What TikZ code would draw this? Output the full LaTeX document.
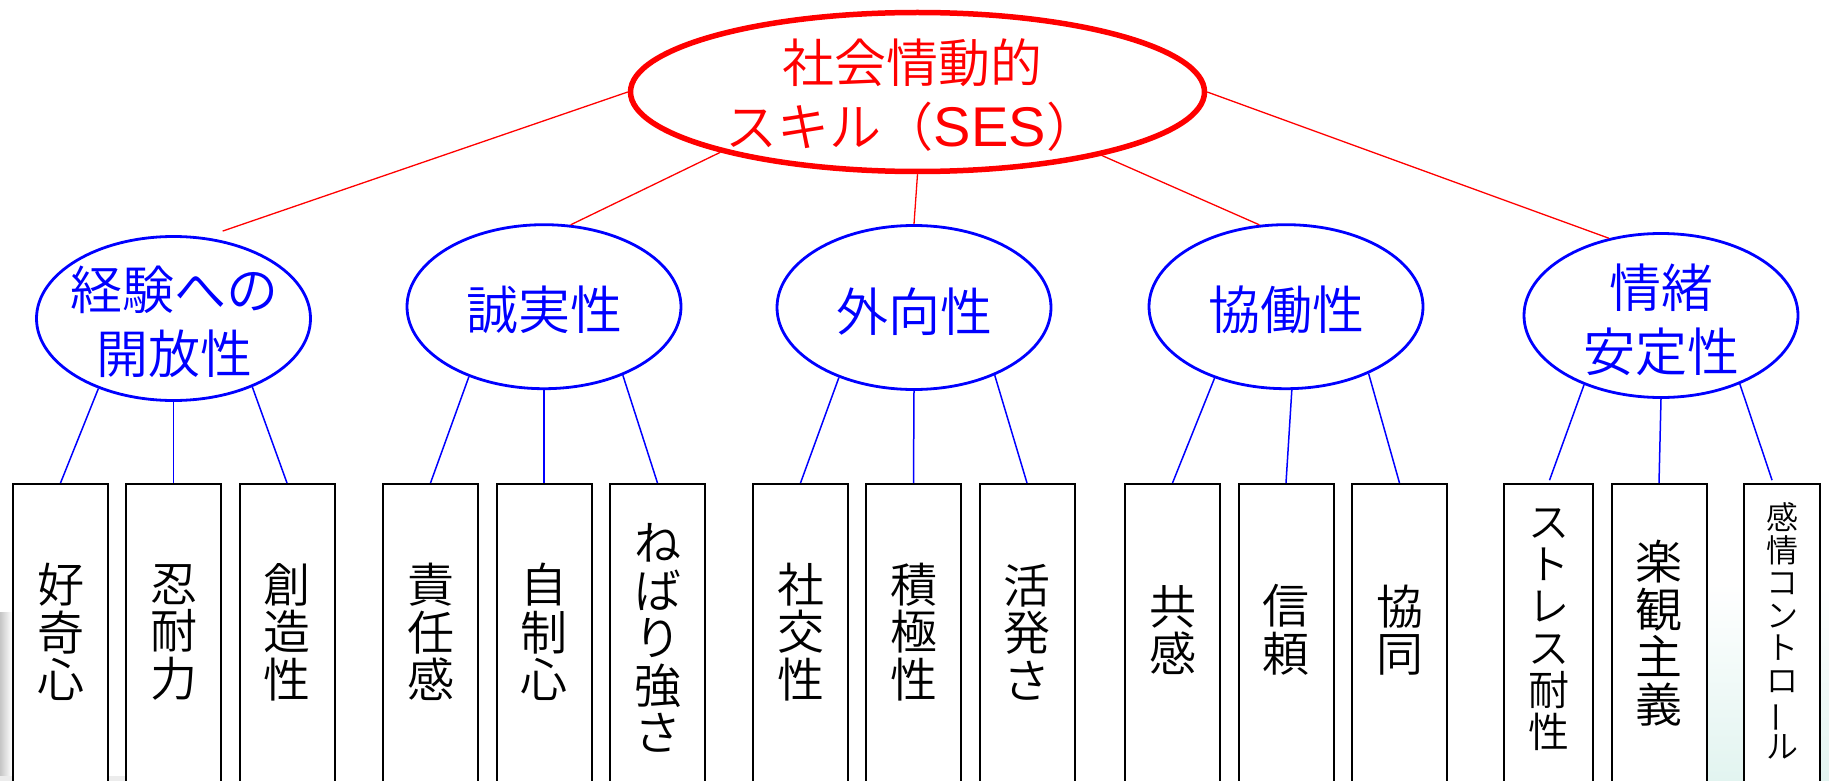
\documentclass[tikz,border=0pt]{standalone}
\usepackage{fontspec}
\setmainfont{Noto Sans CJK JP}[UprightFont={* DemiLight}]
\newfontfamily\latinfont{Liberation Sans}
\usepackage{graphicx}
\usetikzlibrary{shapes.geometric}
\definecolor{bgcyan}{RGB}{226,244,240}
\tikzset{
  bigell/.style={ellipse, draw=red, line width=5.5pt, minimum width=574pt, minimum height=159pt, inner sep=0pt},
  blueell/.style={ellipse, draw=blue, line width=2.8pt, minimum width=274pt, minimum height=164pt, inner sep=0pt},
  redtext/.style={text=red, align=center, inner sep=0pt, font=\fontsize{52}{64}\selectfont},
  bluetext/.style={text=blue, align=center, inner sep=0pt, font=\fontsize{52}{64}\selectfont},
  skillbox/.style={rectangle, draw=black, fill=white, line width=2pt, minimum width=95pt, minimum height=340pt, anchor=north, inner sep=0pt},
  skilltext/.style={text=black, align=center, inner sep=0pt, font=\fontsize{47}{47.5}\selectfont},
  redline/.style={draw=red, line width=1.3pt},
  blueline/.style={draw=blue, line width=1.5pt},
}
\newcommand{\vbar}{\rotatebox[origin=c]{90}{ー}}
\begin{document}
\begin{tikzpicture}[x=1pt,y=-1pt]
\useasboundingbox (0,0) rectangle (1829,781);
\clip (0,0) rectangle (1829,781);
\fill[white] (0,0) rectangle (1829,781);
% faint background remnants at the bottom corners
\shade[left color=gray!45, right color=white] (0,612) rectangle (12,781);
\fill[gray!15] (0,776) rectangle (125,781);
\shade[top color=white, bottom color=bgcyan] (1700,583) rectangle (1829,781);

% top node
\node[bigell] (ses) at (917.5,92) {};
\node[redtext] (sest) at (912,95) {社会情動的\\スキル（{\latinfont\fontsize{56}{64}\selectfont SES}）};

% five domains
\node[blueell] (e1) at (173.5,318.5) {};
\node[bluetext] (e1t) at (174,322) {経験への\\開放性};
\node[blueell] (e2) at (544,306.7) {};
\node[bluetext] (e2t) at (544,310) {誠実性};
\node[blueell] (e3) at (914,307.5) {};
\node[bluetext] (e3t) at (914,311.5) {外向性};
\node[blueell] (e4) at (1286,306.7) {};
\node[bluetext] (e4t) at (1286,310) {協働性};
\node[blueell] (e5) at (1661,315.5) {};
\node[bluetext] (e5t) at (1661.5,319.5) {情緒\\安定性};

% red connectors
\draw[redline, shorten >=19pt] (ses.west) -- (e1.69);
\draw[redline] (ses.-163.5) -- (e2.72);
\draw[redline] (ses.south) -- (e3.north);
\draw[redline] (ses.-19.2) -- (e4.108.7);
\draw[redline] (ses.east) -- (e5.124.3);

% skill boxes
\node[skillbox] (b11) at (60.5,483) {};
\node[skillbox] (b12) at (173.5,483) {};
\node[skillbox] (b13) at (287,483) {};
\node[skillbox] (b21) at (430.5,483) {};
\node[skillbox] (b22) at (544,483) {};
\node[skillbox] (b23) at (657.5,483) {};
\node[skillbox] (b31) at (800.5,483) {};
\node[skillbox] (b32) at (913.5,483) {};
\node[skillbox] (b33) at (1027,483) {};
\node[skillbox] (b41) at (1172.5,483) {};
\node[skillbox] (b42) at (1286,483) {};
\node[skillbox] (b43) at (1399.5,483) {};
\node[skillbox, minimum width=89pt] (b51) at (1548.5,483) {};
\node[skillbox] (b52) at (1659,483) {};
\node[skillbox, minimum width=76pt] (b53) at (1782,483) {};

% skill texts
\node[skilltext] (t11) at (60.5,632) {好\\奇\\心};
\node[skilltext] (t12) at (173.5,632) {忍\\耐\\力};
\node[skilltext] (t13) at (287,632) {創\\造\\性};
\node[skilltext] (t21) at (430.5,632) {責\\任\\感};
\node[skilltext] (t22) at (544,632) {自\\制\\心};
\node[skilltext] (t23) at (657.5,638) {ね\\ば\\り\\強\\さ};
\node[skilltext] (t31) at (800.5,632) {社\\交\\性};
\node[skilltext] (t32) at (913.5,632) {積\\極\\性};
\node[skilltext] (t33) at (1027,632) {活\\発\\さ};
\node[skilltext] (t41) at (1172.5,630) {共\\感};
\node[skilltext] (t42) at (1286,630) {信\\頼};
\node[skilltext] (t43) at (1399.5,630) {協\\同};
\node[skilltext, font=\fontsize{41}{42}\selectfont] (t51) at (1548.5,630) {ス\\ト\\レ\\ス\\耐\\性};
\node[skilltext] (t52) at (1659,633) {楽\\観\\主\\義};
\node[skilltext, font=\fontsize{32}{32.5}\selectfont] (t53) at (1782,631) {感\\情\\コ\\ン\\ト\\ロ\\\vbar\\ル};

% blue connectors
\draw[blueline] (e1.-137) -- (b11.north);
\draw[blueline] (e1.south) -- (b12.north);
\draw[blueline] (e1.-41) -- (b13.north);
\draw[blueline] (e2.-137.5) -- (b21.north);
\draw[blueline] (e2.south) -- (b22.north);
\draw[blueline] (e2.-41) -- (b23.north);
\draw[blueline] (e3.-137.9) -- (b31.north);
\draw[blueline] (e3.south) -- (b32.north);
\draw[blueline] (e3.-40.7) -- (b33.north);
\draw[blueline] (e4.-135.7) -- (b41.north);
\draw[blueline] (e4.-86.6) -- (b42.north);
\draw[blueline] (e4.-39.7) -- (b43.north);
\draw[blueline, shorten >=3pt] (e5.-138.2) -- (b51.north);
\draw[blueline] (e5.south) -- (b52.north);
\draw[blueline, shorten >=3pt] (e5.-41.1) -- ([xshift=-9pt]b53.north);
\end{tikzpicture}
\end{document}
